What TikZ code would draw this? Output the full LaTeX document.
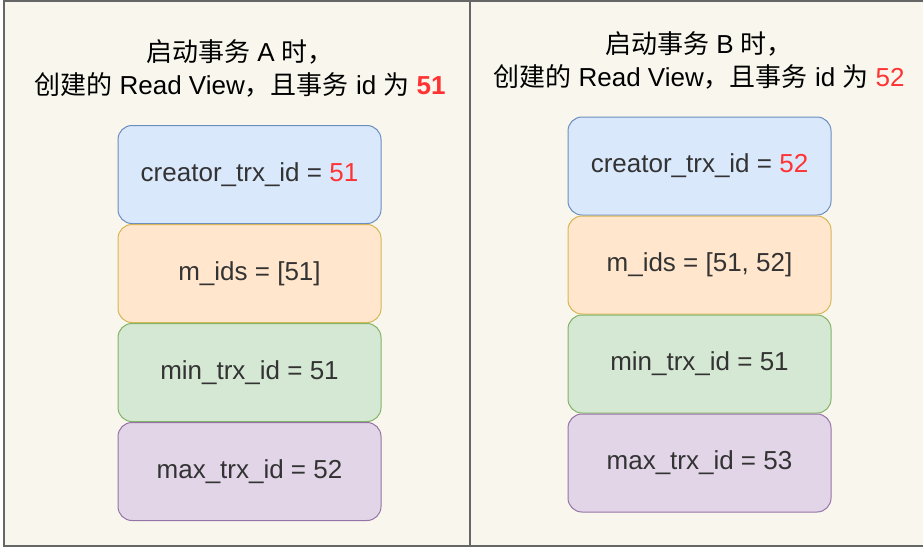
\documentclass[tikz,border=0pt]{standalone}
\usepackage{fontspec}
\setmainfont{Liberation Sans}
\newfontfamily\zh{Noto Sans CJK SC}
\usetikzlibrary{positioning}
\definecolor{paper}{HTML}{F9F7ED}
\definecolor{idred}{HTML}{FF3333}
\definecolor{textgray}{HTML}{333333}
\definecolor{framegray}{HTML}{666666}
\definecolor{bluefill}{HTML}{DAE8FC}
\definecolor{blueline}{HTML}{6C8EBF}
\definecolor{orangefill}{HTML}{FFE6CC}
\definecolor{orangeline}{HTML}{D6B656}
\definecolor{greenfill}{HTML}{D5E8D4}
\definecolor{greenline}{HTML}{82B366}
\definecolor{purplefill}{HTML}{E1D5E7}
\definecolor{purpleline}{HTML}{9673A6}
\tikzset{
    title/.style={align=center, font=\fontsize{26}{33}\selectfont, text=black}, % heading of each panel
    field/.style={draw, rounded corners=14pt, line width=1pt, minimum width=263pt, minimum height=98pt,
        font=\fontsize{26}{30}\selectfont, text=textgray}, % one row of the Read View
    bluebox/.style={field, fill=bluefill, draw=blueline},
    orangebox/.style={field, fill=orangefill, draw=orangeline},
    greenbox/.style={field, fill=greenfill, draw=greenline},
    purplebox/.style={field, fill=purplefill, draw=purpleline},
    frame/.style={draw=framegray, line width=1.5pt},
}
\begin{document}
\begin{tikzpicture}[x=1pt, y=-1pt]
    \useasboundingbox (0,0) rectangle (923,547);
    \fill[paper] (4,0.75) rectangle (930,546);
    \draw[frame] (930,0.75) -- (4,0.75) -- (4,546) -- (930,546);
    \draw[frame] (470,0.75) -- (470,546);
    % transaction A
    \node[title] (ta) at (240,68) {{\zh 启动事务} A {\zh 时，}\\{\zh 创建的} Read View{\zh ，且事务} id {\zh 为} \textbf{\color{idred}51}};
    \node[bluebox] (ca) at (249.5,174.5) {creator\_trx\_id = \textcolor{idred}{51}};
    \node[orangebox, below=0pt of ca] (ma) {m\_ids = [51]};
    \node[greenbox, below=0pt of ma] (mina) {min\_trx\_id = 51};
    \node[purplebox, below=0pt of mina] (maxa) {max\_trx\_id = 52};
    % transaction B
    \node[title] (tb) at (699,60) {{\zh 启动事务} B {\zh 时，}\\{\zh 创建的} Read View{\zh ，且事务} id {\zh 为} \textcolor{idred}{52}};
    \node[bluebox] (cb) at (699.5,166) {creator\_trx\_id = \textcolor{idred}{52}};
    \node[orangebox, below=0pt of cb] (mb) {m\_ids = [51, 52]};
    \node[greenbox, below=0pt of mb] (minb) {min\_trx\_id = 51};
    \node[purplebox, below=0pt of minb] (maxb) {max\_trx\_id = 53};
\end{tikzpicture}
\end{document}
